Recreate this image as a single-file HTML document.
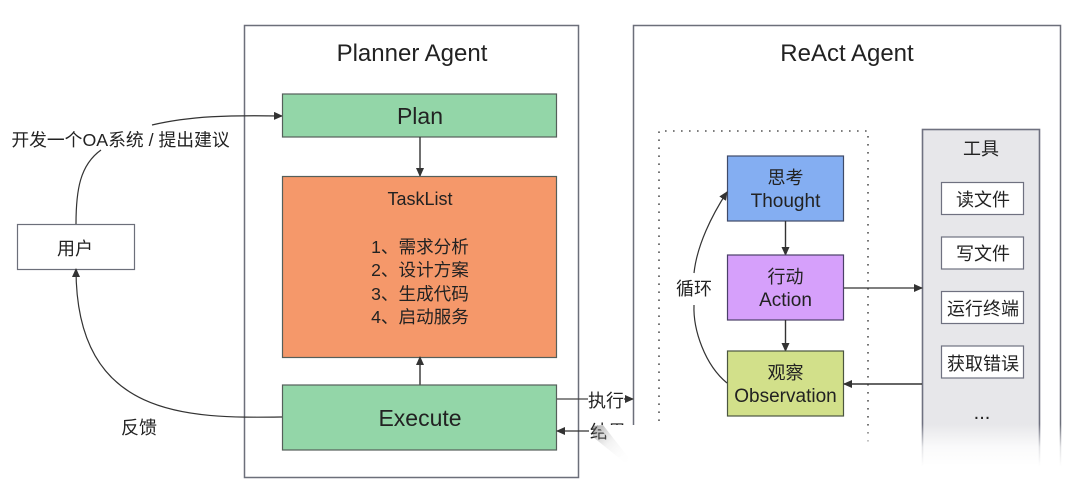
<!DOCTYPE html>
<html><head><meta charset="utf-8"><style>
html,body{margin:0;padding:0;background:#fff;width:1080px;height:499px;overflow:hidden}
svg{display:block;filter:blur(.35px)}
text{font-family:"Liberation Sans","Noto Sans CJK SC",sans-serif;fill:#222;text-anchor:middle}
</style></head><body>
<svg width="1080" height="499" viewBox="0 0 1080 499" xmlns="http://www.w3.org/2000/svg">
<defs>
<marker id="a" markerWidth="9" markerHeight="8" refX="8" refY="4" orient="auto" markerUnits="userSpaceOnUse"><path d="M0 0L9 4L0 8z" fill="#333"/></marker>
<linearGradient id="f" x1="0" y1="0" x2="0" y2="1"><stop offset="0" stop-color="#fff" stop-opacity="0"/><stop offset=".55" stop-color="#fff" stop-opacity=".8"/><stop offset="1" stop-color="#fff"/></linearGradient>
<linearGradient id="s" x1="0" y1="0" x2="1" y2="1"><stop offset="0" stop-color="#555" stop-opacity=".9"/><stop offset=".45" stop-color="#bbb" stop-opacity=".3"/><stop offset="1" stop-color="#fff" stop-opacity="0"/></linearGradient>
</defs>
<rect x="244.5" y="25.5" width="334" height="452" fill="#fff" stroke="#6c6f7a" stroke-width="1.5"/>
<path d="M633.5 425V25.5H1060.5V480" fill="none" stroke="#6c6f7a" stroke-width="1.5"/>
<text x="412" y="61" font-size="24">Planner Agent</text>
<text x="847" y="61" font-size="24">ReAct Agent</text>

<rect x="17.5" y="224.5" width="117" height="45" fill="#fff" stroke="#6c6f7a" stroke-width="1.2"/>
<text x="75" y="255" font-size="18">用户</text>
<path d="M76 224C76 190 80 165 101 150" fill="none" stroke="#333" stroke-width="1.2"/>
<path d="M152 125C190 116 230 115 282 116" fill="none" stroke="#333" stroke-width="1.2" marker-end="url(#a)"/>
<text x="120.500" y="146" font-size="17.8">开发一个OA系统 / 提出建议</text>
<path d="M282 417C190 418 76 420 76 269" fill="none" stroke="#333" stroke-width="1.2" marker-end="url(#a)"/>
<text x="139" y="434" font-size="18">反馈</text>

<rect x="282.5" y="94" width="274" height="43" fill="#93d6a8" stroke="#555f5a" stroke-width="1.2"/>
<text x="420" y="124" font-size="23">Plan</text>
<path d="M420 137V176" stroke="#333" stroke-width="1.4" marker-end="url(#a)"/>
<rect x="282.5" y="176.500" width="274" height="181" fill="#f5986a" stroke="#555f5a" stroke-width="1.2"/>
<text x="420" y="205" font-size="18">TaskList</text>
<text x="420" y="253" font-size="17.6">1、需求分析</text>
<text x="420" y="276" font-size="17.6">2、设计方案</text>
<text x="420" y="300" font-size="17.6">3、生成代码</text>
<text x="420" y="323" font-size="17.6">4、启动服务</text>
<path d="M420 385V357" stroke="#333" stroke-width="1.4" marker-end="url(#a)"/>
<rect x="282.5" y="385" width="274" height="65" fill="#93d6a8" stroke="#555f5a" stroke-width="1.2"/>
<text x="420" y="426" font-size="23">Execute</text>

<path d="M557 399H588" stroke="#444" stroke-width="1.2"/>
<text x="606" y="407" font-size="18">执行</text>
<path d="M624 399H633" stroke="#333" stroke-width="1.2" marker-end="url(#a)"/>
<path d="M589 431H557" stroke="#333" stroke-width="1.2" marker-end="url(#a)"/>
<text x="608" y="438" font-size="18">结果</text>

<path d="M659 421V131H868V445" fill="none" stroke="#555" stroke-width="1.6" stroke-dasharray="1.6 6.4"/>
<rect x="922.5" y="129.5" width="117" height="360" fill="#e7e7ea" stroke="#6f7180" stroke-width="1.6"/>
<text x="981" y="155" font-size="18">工具</text>
<g fill="#fff" stroke="#6f7180" stroke-width="1.2">
<rect x="941.5" y="182.5" width="82" height="32"/>
<rect x="941.5" y="237" width="82" height="32"/>
<rect x="941.5" y="291.5" width="82" height="32"/>
<rect x="941.5" y="346" width="82" height="32"/>
</g>
<text x="983" y="206" font-size="18">读文件</text>
<text x="983" y="260" font-size="18">写文件</text>
<text x="983" y="315" font-size="18">运行终端</text>
<text x="983" y="370" font-size="18">获取错误</text>
<text x="982" y="419" font-size="20">...</text>

<rect x="727.5" y="156" width="116" height="65" fill="#84aef2" stroke="#3f4a68" stroke-width="1.2"/>
<text x="785.5" y="184" font-size="18">思考</text>
<text x="785.5" y="207" font-size="19">Thought</text>
<path d="M785.5 221V255" stroke="#333" stroke-width="1.4" marker-end="url(#a)"/>
<rect x="727.5" y="255" width="116" height="65" fill="#d6a0fb" stroke="#4b3f68" stroke-width="1.2"/>
<text x="785.5" y="283" font-size="18">行动</text>
<text x="785.5" y="306" font-size="19">Action</text>
<path d="M785.5 320V351" stroke="#333" stroke-width="1.4" marker-end="url(#a)"/>
<rect x="727.5" y="351" width="116" height="65" fill="#d2e08a" stroke="#4b5540" stroke-width="1.2"/>
<text x="785.5" y="379" font-size="18">观察</text>
<text x="785.5" y="402" font-size="19">Observation</text>
<path d="M844 288H922" stroke="#333" stroke-width="1.2" marker-end="url(#a)"/>
<path d="M922 384H844" stroke="#333" stroke-width="1.4" marker-end="url(#a)"/>
<path d="M727 383C705 365 693 330 694 305" fill="none" stroke="#333" stroke-width="1.2"/>
<path d="M694 273C697 245 712 215 727 192" fill="none" stroke="#333" stroke-width="1.2" marker-end="url(#a)"/>
<text x="694" y="295" font-size="18">循环</text>

<rect x="640" y="424" width="440" height="42" fill="url(#f)"/>
<rect x="640" y="466" width="440" height="33" fill="#fff"/>
<path d="M597 425H640V475z" fill="#fff"/>
<path d="M593 426L603 425L632 462L624 462L593 437z" fill="url(#s)" opacity=".6"/>
</svg>
</body></html>
